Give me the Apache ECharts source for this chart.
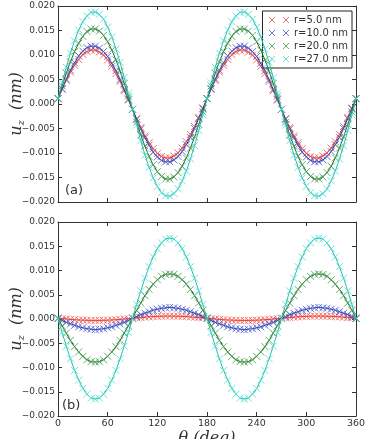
<!DOCTYPE html>
<html>
<head>
<meta charset="utf-8">
<script src="https://cdn.jsdelivr.net/npm/echarts@6/dist/echarts.min.js"></script>
<style>
html, body { margin: 0; padding: 0; background: #fff; }
#chart { width: 366px; height: 439px; }
</style>
</head>
<body>
<div id="chart"></div>
<script>
// angle (deg)
var theta = [
  0, 5, 10, 15, 20, 25, 30, 35, 40, 45, 50, 55, 60, 65, 70, 75, 80, 85, 90,
  95, 100, 105, 110, 115, 120, 125, 130, 135, 140, 145, 150, 155, 160, 165, 170, 175, 180,
  185, 190, 195, 200, 205, 210, 215, 220, 225, 230, 235, 240, 245, 250, 255, 260, 265, 270,
  275, 280, 285, 290, 295, 300, 305, 310, 315, 320, 325, 330, 335, 340, 345, 350, 355, 360
];
var radii = ['r=5.0 nm', 'r=10.0 nm', 'r=20.0 nm', 'r=27.0 nm'];

// panel (a)
var uzA_r5 = [
  0.0011, 0.0030, 0.0048, 0.0065, 0.0079, 0.0091, 0.0101, 0.0107, 0.0110, 0.0110, 0.0106, 0.0100, 0.0090, 0.0077, 0.0062, 0.0046, 0.0027, 0.0008, -0.0011,
  -0.0030, -0.0048, -0.0065, -0.0079, -0.0091, -0.0101, -0.0107, -0.0110, -0.0110, -0.0106, -0.0100, -0.0090, -0.0077, -0.0062, -0.0046, -0.0027, -0.0008, 0.0011,
  0.0030, 0.0048, 0.0065, 0.0079, 0.0091, 0.0101, 0.0107, 0.0110, 0.0110, 0.0106, 0.0100, 0.0090, 0.0077, 0.0062, 0.0046, 0.0027, 0.0008, -0.0011,
  -0.0030, -0.0048, -0.0065, -0.0079, -0.0091, -0.0101, -0.0107, -0.0110, -0.0110, -0.0106, -0.0100, -0.0090, -0.0077, -0.0062, -0.0046, -0.0027, -0.0008, 0.0011
];
var uzA_r10 = [
  0.0011, 0.0031, 0.0051, 0.0069, 0.0084, 0.0098, 0.0108, 0.0115, 0.0118, 0.0118, 0.0114, 0.0107, 0.0097, 0.0083, 0.0068, 0.0050, 0.0030, 0.0010, -0.0011,
  -0.0031, -0.0051, -0.0069, -0.0084, -0.0098, -0.0108, -0.0115, -0.0118, -0.0118, -0.0114, -0.0107, -0.0097, -0.0083, -0.0068, -0.0050, -0.0030, -0.0010, 0.0011,
  0.0031, 0.0051, 0.0069, 0.0084, 0.0098, 0.0108, 0.0115, 0.0118, 0.0118, 0.0114, 0.0107, 0.0097, 0.0083, 0.0068, 0.0050, 0.0030, 0.0010, -0.0011,
  -0.0031, -0.0051, -0.0069, -0.0084, -0.0098, -0.0108, -0.0115, -0.0118, -0.0118, -0.0114, -0.0107, -0.0097, -0.0083, -0.0068, -0.0050, -0.0030, -0.0010, 0.0011
];
var uzA_r20 = [
  0.0011, 0.0037, 0.0063, 0.0086, 0.0107, 0.0124, 0.0138, 0.0148, 0.0153, 0.0153, 0.0149, 0.0140, 0.0127, 0.0110, 0.0090, 0.0067, 0.0042, 0.0016, -0.0011,
  -0.0037, -0.0063, -0.0086, -0.0107, -0.0124, -0.0138, -0.0148, -0.0153, -0.0153, -0.0149, -0.0140, -0.0127, -0.0110, -0.0090, -0.0067, -0.0042, -0.0016, 0.0011,
  0.0037, 0.0063, 0.0086, 0.0107, 0.0124, 0.0138, 0.0148, 0.0153, 0.0153, 0.0149, 0.0140, 0.0127, 0.0110, 0.0090, 0.0067, 0.0042, 0.0016, -0.0011,
  -0.0037, -0.0063, -0.0086, -0.0107, -0.0124, -0.0138, -0.0148, -0.0153, -0.0153, -0.0149, -0.0140, -0.0127, -0.0110, -0.0090, -0.0067, -0.0042, -0.0016, 0.0011
];
var uzA_r27 = [
  0.0011, 0.0043, 0.0075, 0.0104, 0.0129, 0.0151, 0.0168, 0.0180, 0.0187, 0.0188, 0.0183, 0.0173, 0.0157, 0.0137, 0.0112, 0.0085, 0.0054, 0.0022, -0.0011,
  -0.0043, -0.0075, -0.0104, -0.0129, -0.0151, -0.0168, -0.0181, -0.0187, -0.0188, -0.0183, -0.0173, -0.0157, -0.0137, -0.0112, -0.0085, -0.0054, -0.0022, 0.0011,
  0.0043, 0.0075, 0.0104, 0.0129, 0.0151, 0.0168, 0.0180, 0.0187, 0.0188, 0.0183, 0.0173, 0.0157, 0.0137, 0.0112, 0.0085, 0.0054, 0.0022, -0.0011,
  -0.0043, -0.0075, -0.0104, -0.0129, -0.0151, -0.0168, -0.0181, -0.0187, -0.0188, -0.0183, -0.0173, -0.0157, -0.0137, -0.0112, -0.0085, -0.0054, -0.0022, 0.0011
];

// panel (b)
var uzB_r5 = [
  0.00015, 0.00007, 0.00000, -0.00008, -0.00014, -0.00020, -0.00024, -0.00027, -0.00029, -0.00030, -0.00029, -0.00027, -0.00024, -0.00020, -0.00014, -0.00008, 0.00000, 0.00007, 0.00015,
  0.00023, 0.00030, 0.00038, 0.00044, 0.00050, 0.00054, 0.00057, 0.00059, 0.00060, 0.00059, 0.00057, 0.00054, 0.00050, 0.00044, 0.00038, 0.00030, 0.00023, 0.00015,
  0.00007, 0.00000, -0.00008, -0.00014, -0.00020, -0.00024, -0.00027, -0.00029, -0.00030, -0.00029, -0.00027, -0.00024, -0.00020, -0.00014, -0.00008, 0.00000, 0.00007, 0.00015,
  0.00023, 0.00030, 0.00038, 0.00044, 0.00050, 0.00054, 0.00057, 0.00059, 0.00060, 0.00059, 0.00057, 0.00054, 0.00050, 0.00044, 0.00038, 0.00030, 0.00023, 0.00015
];
var uzB_r10 = [
  0.0001, -0.0003, -0.0007, -0.0010, -0.0013, -0.0016, -0.0018, -0.0020, -0.0021, -0.0022, -0.0021, -0.0020, -0.0018, -0.0016, -0.0013, -0.0010, -0.0007, -0.0003, 0.0001,
  0.0005, 0.0009, 0.0012, 0.0015, 0.0018, 0.0020, 0.0022, 0.0023, 0.0024, 0.0023, 0.0022, 0.0020, 0.0018, 0.0015, 0.0012, 0.0009, 0.0005, 0.0001,
  -0.0003, -0.0007, -0.0010, -0.0013, -0.0016, -0.0018, -0.0020, -0.0021, -0.0022, -0.0021, -0.0020, -0.0018, -0.0016, -0.0013, -0.0010, -0.0007, -0.0003, 0.0001,
  0.0005, 0.0009, 0.0012, 0.0015, 0.0018, 0.0020, 0.0022, 0.0023, 0.0024, 0.0023, 0.0022, 0.0020, 0.0018, 0.0015, 0.0012, 0.0009, 0.0005, 0.0001
];
var uzB_r20 = [
  0.0002, -0.0014, -0.0029, -0.0044, -0.0057, -0.0068, -0.0077, -0.0084, -0.0088, -0.0089, -0.0088, -0.0084, -0.0077, -0.0068, -0.0057, -0.0044, -0.0029, -0.0014, 0.0002,
  0.0018, 0.0033, 0.0048, 0.0061, 0.0072, 0.0081, 0.0088, 0.0092, 0.0093, 0.0092, 0.0088, 0.0081, 0.0072, 0.0061, 0.0048, 0.0033, 0.0018, 0.0002,
  -0.0014, -0.0029, -0.0044, -0.0057, -0.0068, -0.0077, -0.0084, -0.0088, -0.0089, -0.0088, -0.0084, -0.0077, -0.0068, -0.0057, -0.0044, -0.0029, -0.0014, 0.0002,
  0.0018, 0.0033, 0.0048, 0.0061, 0.0072, 0.0081, 0.0088, 0.0092, 0.0093, 0.0092, 0.0088, 0.0081, 0.0072, 0.0061, 0.0048, 0.0033, 0.0018, 0.0002
];
var uzB_r27 = [
  0.0001, -0.0028, -0.0056, -0.0082, -0.0106, -0.0126, -0.0143, -0.0155, -0.0163, -0.0165, -0.0163, -0.0155, -0.0143, -0.0126, -0.0106, -0.0082, -0.0056, -0.0028, 0.0001,
  0.0030, 0.0058, 0.0084, 0.0108, 0.0128, 0.0145, 0.0157, 0.0165, 0.0167, 0.0165, 0.0157, 0.0145, 0.0128, 0.0108, 0.0084, 0.0058, 0.0030, 0.0001,
  -0.0028, -0.0056, -0.0082, -0.0106, -0.0126, -0.0143, -0.0155, -0.0163, -0.0165, -0.0163, -0.0155, -0.0143, -0.0126, -0.0106, -0.0082, -0.0056, -0.0028, 0.0001,
  0.0030, 0.0058, 0.0084, 0.0108, 0.0128, 0.0145, 0.0157, 0.0165, 0.0167, 0.0165, 0.0157, 0.0145, 0.0128, 0.0108, 0.0084, 0.0058, 0.0030, 0.0001
];

var panelA = [uzA_r5, uzA_r10, uzA_r20, uzA_r27];
var panelB = [uzB_r5, uzB_r10, uzB_r20, uzB_r27];

var markColors = ['#f44a40', '#4455cc', '#3f9a4a', '#48ddd0'];
var lineColors = ['#e8392f', '#2c3aa6', '#1f6e2c', '#2ebcb0'];
var crossIcon = 'path://M0,0L10,10M10,0L0,10';

var chart = echarts.init(document.getElementById('chart'), null, { renderer: 'canvas' });

function pairs(vals) {
  return vals.map(function (v, i) { return [theta[i], v]; });
}

function yFmt(v) {
  return v.toFixed(3).replace('-', '\u2212');
}

var axisCol = '#333';
var mathFont = 'DejaVu Serif';

function xAx(grid, pos, labels) {
  return {
    type: 'value', gridIndex: grid, position: pos,
    min: 0, max: 360, interval: 60,
    axisLine: { show: true, onZero: false, lineStyle: { color: axisCol, width: 1 } },
    axisTick: { show: true, inside: true, length: 4, lineStyle: { color: axisCol } },
    axisLabel: { show: labels, color: '#333', fontSize: 9.5, margin: 3, fontFamily: 'DejaVu Sans' },
    splitLine: { show: false }
  };
}

function yAx(grid, pos, labels) {
  var ax = {
    type: 'value', gridIndex: grid, position: pos,
    min: -0.02, max: 0.02, interval: 0.005,
    axisLine: { show: true, onZero: false, lineStyle: { color: axisCol, width: 1 } },
    axisTick: { show: true, inside: true, length: 4, lineStyle: { color: axisCol } },
    axisLabel: { show: labels, color: '#333', fontSize: 9, margin: 3, fontFamily: 'DejaVu Sans', formatter: yFmt },
    splitLine: { show: false }
  };
  if (labels) {
    ax.name = '{u|u}{z|z}{n|  (nm)}';
    ax.nameLocation = 'middle';
    ax.nameRotate = 90;
    ax.nameGap = 32;
    ax.nameMoveOverlap = false;
    ax.nameTextStyle = {
      color: '#333',
      rich: {
        u: { fontFamily: mathFont, fontStyle: 'italic', fontSize: 16, color: '#333' },
        z: { fontFamily: mathFont, fontStyle: 'italic', fontSize: 10, color: '#333', verticalAlign: 'bottom', padding: [8, 0, 0, 0] },
        n: { fontFamily: mathFont, fontStyle: 'italic', fontSize: 16, color: '#333' }
      }
    };
  }
  return ax;
}

var xAxes = [xAx(0, 'bottom', false), xAx(0, 'top', false), xAx(1, 'bottom', true), xAx(1, 'top', false)];
xAxes[2].name = '\u03b8 (deg)';
xAxes[2].nameLocation = 'middle';
xAxes[2].nameGap = 15;
xAxes[2].nameMoveOverlap = false;
xAxes[2].nameTextStyle = { fontFamily: mathFont, fontStyle: 'italic', fontSize: 16, color: '#333' };

var yAxes = [yAx(0, 'left', true), yAx(0, 'right', false), yAx(1, 'left', true), yAx(1, 'right', false)];

var series = [];
[panelA, panelB].forEach(function (panel, p) {
  panel.forEach(function (vals, i) {
    series.push({
      type: 'line', name: 'fit' + p + i,
      xAxisIndex: p * 2, yAxisIndex: p * 2,
      data: pairs(vals), showSymbol: false, symbol: 'none',
      lineStyle: { color: lineColors[i], width: 1 },
      z: 2 + i * 2, silent: true
    });
    series.push({
      type: 'scatter', name: radii[i],
      xAxisIndex: p * 2, yAxisIndex: p * 2,
      data: pairs(vals), symbol: crossIcon, symbolSize: 7,
      itemStyle: { color: 'rgba(0,0,0,0)', borderColor: markColors[i], borderWidth: 1 },
      z: 3 + i * 2, silent: true
    });
  });
});

var option = {
  animation: false,
  backgroundColor: '#fff',
  grid: [
    { left: 58, top: 6, width: 298, height: 196, containLabel: false, outerBoundsMode: 'none' },
    { left: 58, top: 222, width: 298, height: 194, containLabel: false, outerBoundsMode: 'none' }
  ],
  xAxis: xAxes,
  yAxis: yAxes,
  legend: {
    right: 14, top: 11, orient: 'vertical',
    backgroundColor: '#fff', borderColor: '#222', borderWidth: 1, borderRadius: 0,
    padding: [4, 4, 4, 6], itemGap: 3, itemWidth: 20, itemHeight: 7,
    textStyle: { fontSize: 10, color: '#333', fontFamily: 'DejaVu Sans' },
    selectedMode: false,
    data: radii.map(function (r, i) {
      return {
        name: r,
        icon: 'path://M0,0L6,6M6,0L0,6M14,0L20,6M20,0L14,6',
        itemStyle: { color: 'rgba(0,0,0,0)', borderColor: markColors[i], borderWidth: 1 }
      };
    })
  },
  graphic: [
    { type: 'text', left: 65, top: 184, style: { text: '(a)', fontSize: 13, fill: '#333', fontFamily: 'DejaVu Sans' } },
    { type: 'text', left: 62, top: 399, style: { text: '(b)', fontSize: 13, fill: '#333', fontFamily: 'DejaVu Sans' } }
  ],
  series: series
};

chart.setOption(option);
</script>
</body>
</html>
